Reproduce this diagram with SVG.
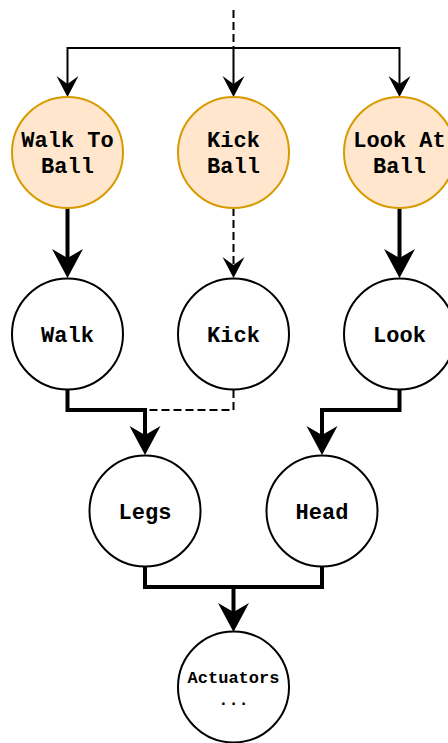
<svg xmlns="http://www.w3.org/2000/svg" width="448" height="743" viewBox="0 0 448 743">
<style>
.task{fill:#ffe6cc;stroke:#d79b00;stroke-width:2}
.node{fill:#ffffff;stroke:#000000;stroke-width:2}
.lbl{font-family:"Liberation Mono",monospace;font-weight:bold;font-size:22px;fill:#000;text-anchor:middle}
.sm{font-size:17px}
.thin{fill:none;stroke:#000;stroke-width:2}
.thick{fill:none;stroke:#000;stroke-width:4}
.dash{stroke-dasharray:8 4}
.ah{fill:#000;stroke:none}
</style>
<defs>
<path id="a1" d="M0,0 L-11,-21 L0,-13 L11,-21 Z"/>
<path id="a2" d="M0,0 L-15.5,-29 L0,-20 L15.5,-29 Z"/>
</defs>
<rect width="448" height="743" fill="#ffffff"/>
<g id="connectors">
<path class="thin dash" d="M233.5,10 L233.5,48"/>
<path class="thin" d="M67.5,86 L67.5,48 L399.5,48 L399.5,86 M233.5,48 L233.5,86"/>
<use href="#a1" x="67.5" y="97" class="ah"/>
<use href="#a1" x="233.5" y="97" class="ah"/>
<use href="#a1" x="399.5" y="97" class="ah"/>
<path class="thick" d="M67.5,208 L67.5,262"/>
<use href="#a2" x="67.5" y="278" class="ah"/>
<path class="thin dash" d="M233.5,208 L233.5,266"/>
<use href="#a1" x="233.5" y="278" class="ah"/>
<path class="thick" d="M399.5,208 L399.5,262"/>
<use href="#a2" x="399.5" y="278" class="ah"/>
<path class="thin dash" d="M233.5,390 L233.5,410 L145,410"/>
<path class="thick" d="M67.5,390 L67.5,410 L145,410 L145,440"/>
<use href="#a2" x="145" y="455" class="ah"/>
<path class="thick" d="M399.5,390 L399.5,410 L322,410 L322,440"/>
<use href="#a2" x="322" y="455" class="ah"/>
<path class="thick" d="M145,567 L145,587 L322,587 L322,567 M233.5,587 L233.5,617"/>
<use href="#a2" x="233.5" y="632" class="ah"/>
</g>
<g id="walk-to-ball"><circle class="task" cx="67.5" cy="152.5" r="55.5"/><text class="lbl" x="67.5" y="147">Walk To</text><text class="lbl" x="67.5" y="173">Ball</text></g>
<g id="kick-ball"><circle class="task" cx="233.5" cy="152.5" r="55.5"/><text class="lbl" x="233.5" y="147">Kick</text><text class="lbl" x="233.5" y="173">Ball</text></g>
<g id="look-at-ball"><circle class="task" cx="399.5" cy="152.5" r="55.5"/><text class="lbl" x="399.5" y="147">Look At</text><text class="lbl" x="399.5" y="173">Ball</text></g>
<g id="walk"><circle class="node" cx="67.5" cy="334" r="55.5"/><text class="lbl" x="67.5" y="341.5">Walk</text></g>
<g id="kick"><circle class="node" cx="233.5" cy="334" r="55.5"/><text class="lbl" x="233.5" y="341.5">Kick</text></g>
<g id="look"><circle class="node" cx="399.5" cy="334" r="55.5"/><text class="lbl" x="399.5" y="341.5">Look</text></g>
<g id="legs"><circle class="node" cx="145" cy="511" r="55.5"/><text class="lbl" x="145" y="518.5">Legs</text></g>
<g id="head"><circle class="node" cx="322" cy="511" r="55.5"/><text class="lbl" x="322" y="518.5">Head</text></g>
<g id="actuators"><circle class="node" cx="233.5" cy="687" r="55.5"/><text class="lbl sm" x="233.5" y="683">Actuators</text><text class="lbl sm" x="233.5" y="705">...</text></g>
</svg>
